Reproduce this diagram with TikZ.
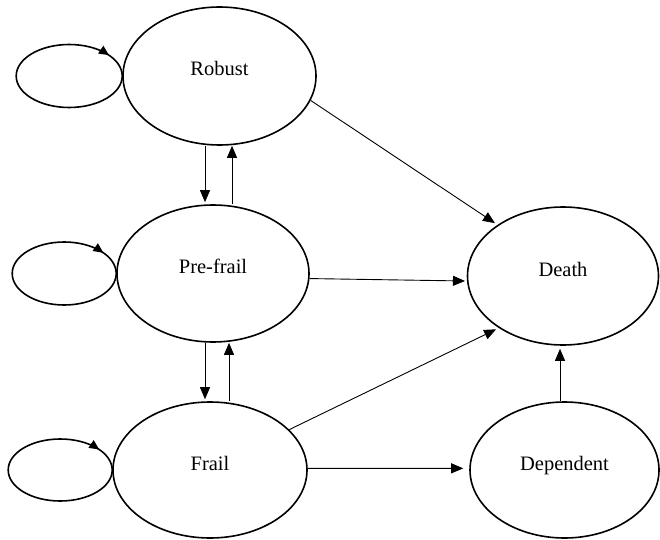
\documentclass[tikz,border=0pt]{standalone}
\usepackage{fontspec}
\setmainfont{Liberation Serif}
\usetikzlibrary{shapes.geometric,arrows.meta,calc,decorations.markings}
\begin{document}
\begin{tikzpicture}[x=1pt,y=1pt,
  stbox/.style={ellipse, draw, line width=1.6pt, inner sep=0pt,
    text height=14pt, text depth=14pt, font=\fontsize{20.5}{22}\selectfont},
  conn/.style={line width=0.9pt, -{Triangle[length=12pt,width=10pt]}, shorten >=2pt},
  loopln/.style={line width=1.6pt, postaction={decorate},
    decoration={markings, mark=at position 0.905 with {\arrow{Triangle[length=10pt,width=9pt]}}}}
]
\useasboundingbox (0,0) rectangle (660,539);
\node[stbox, minimum width=193pt, minimum height=138pt] (rob) at (219.5,463) {Robust};
\node[stbox, minimum width=192pt, minimum height=137pt] (pre) at (213,265.5) {Pre-frail};
\node[stbox, minimum width=194pt, minimum height=136pt] (frail) at (210,69) {Frail};
\node[stbox, minimum width=191pt, minimum height=138pt] (death) at (563,263) {Death};
\node[stbox, minimum width=189pt, minimum height=136pt] (dep) at (564.5,69) {Dependent};

% self loops
\draw[loopln] (rob.west) arc[start angle=0, delta angle=-360, x radius=53pt, y radius=31.5pt];
\draw[loopln] (pre.west) arc[start angle=0, delta angle=-360, x radius=52pt, y radius=31.5pt];
\draw[loopln] (frail.west) arc[start angle=0, delta angle=-360, x radius=52pt, y radius=31pt];

% vertical transitions
\draw[conn] ([xshift=-14.5pt]rob.south) -- ([xshift=-8pt]pre.north);
\draw[conn, shorten >=0pt] ([xshift=19pt]pre.north) -- ([xshift=12.5pt]rob.south);
\draw[conn] ([xshift=-8pt]pre.south) -- ([xshift=-5pt]frail.north);
\draw[conn, shorten >=0pt] ([xshift=19pt]frail.north) -- ([xshift=16pt]pre.south);

% to death / dependent
\draw[conn, shorten >=3pt] (rob.-15.5) -- (death.142);
\draw[conn] (pre.-3) -- (death.183);
\draw[conn, shorten >=3pt] (frail.27) -- (death.219);
\draw[conn, shorten >=6pt] (frail.1) -- (dep.179);
\draw[conn, shorten >=3pt] ([xshift=-4.5pt]dep.north) -- ([xshift=-3pt]death.south);
\end{tikzpicture}
\end{document}
